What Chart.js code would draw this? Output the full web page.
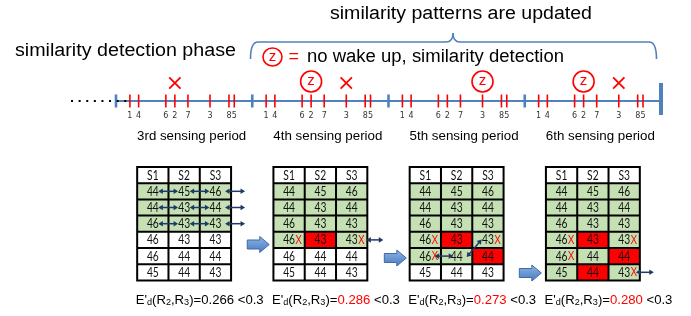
<!DOCTYPE html>
<html><head><meta charset="utf-8">
<script src="https://cdn.jsdelivr.net/npm/chart.js@4/dist/chart.umd.min.js"></script>
<style>html,body{margin:0;padding:0;background:#fff;overflow:hidden}canvas{display:block}</style>
</head><body>
<canvas id="c" width="691" height="316"></canvas>
<script>
// ================= DATA =================
const periods = [3, 4, 5, 6];                       // sensing periods on the time axis
const timelineEnd = 7;                              // end of the 6th period
const leadInStart = 2.67;                           // dotted "earlier periods" lead-in
const periodLabels = ["3rd sensing period", "4th sensing period", "5th sensing period", "6th sensing period"];
const eventLabels = ["1", "4", "6", "2", "7", "3", "8", "5"];          // sensor wake-ups
const eventPhase  = [0.102, 0.166, 0.366, 0.432, 0.528, 0.690, 0.829, 0.868]; // fraction of a period
const xEvents = [{period: 3, event: "2"}, {period: 4, event: "3"}, {period: 6, event: "3"}];
const zEvents = [{period: 4, event: "2"}, {period: 5, event: "3"}, {period: 6, event: "2"}];

const sensorNames = ["S1", "S2", "S3"];
const sensorReadings = [
  [44, 45, 46],
  [44, 43, 44],
  [46, 43, 43],
  [46, 43, 43],
  [46, 44, 44],
  [45, 44, 43]
];
const patternRows   = [3, 4, 5, 6];                 // rows in the similarity pattern (green)
const violatedCells = [[], [[3, 1]], [[3, 1], [4, 2]], [[3, 1], [4, 2], [5, 1]]];
const flaggedCells  = [[], [[3, 0], [3, 2]], [[3, 0], [3, 2], [4, 0]], [[3, 0], [3, 2], [4, 0], [5, 2]]];
const edValues   = [0.266, 0.286, 0.273, 0.280];
const edUpdated  = [false, true, true, true];
const edThreshold = 0.3;

// ================= STYLE / LAYOUT =================
const BLUE = '#4f81bd', RED = '#ff0000', NAVY = '#1f3864', GREEN = '#c5e0b3';
const LINE_Y = 101, MARK_Y = 83, Z_Y = 81.5, NUM_Y = 116, PLABEL_Y = 136;
const TAB_TOP = 167, ROW_H = 16.2, COL_W = 31.3, ED_Y = 300;
const SANS = '"Liberation Sans", Arial, sans-serif';
const CELLFONT = 'Lato, "Open Sans", sans-serif';

function evT(p, e) { return p + eventPhase[eventLabels.indexOf(e)]; }

const eventPts = [];
periods.forEach(p => eventLabels.forEach((e, i) => eventPts.push({x: p + eventPhase[i], y: LINE_Y})));

function txt(ctx, s, x, y, o) {
  ctx.save();
  ctx.font = (o.weight || '') + ' ' + o.size + 'px ' + (o.family || SANS);
  ctx.fillStyle = o.color || '#000';
  ctx.textBaseline = o.baseline || 'middle';
  const w = ctx.measureText(s).width;
  const sx = o.width ? o.width / w : (o.sx || 1);
  const a = o.align || 'center';
  const x0 = a === 'center' ? x - w * sx / 2 : a === 'right' ? x - w * sx : x;
  ctx.translate(x0, y); ctx.scale(sx, 1); ctx.textAlign = 'left';
  ctx.fillText(s, 0, 0);
  ctx.restore();
  return w * sx;
}

function dArrow(ctx, x1, y1, x2, y2) {
  const ang = Math.atan2(y2 - y1, x2 - x1), h = 4.5, hw = 2.8;
  ctx.save();
  ctx.strokeStyle = NAVY; ctx.fillStyle = NAVY; ctx.lineWidth = 1.5;
  ctx.beginPath();
  ctx.moveTo(x1 + Math.cos(ang) * h * 0.8, y1 + Math.sin(ang) * h * 0.8);
  ctx.lineTo(x2 - Math.cos(ang) * h * 0.8, y2 - Math.sin(ang) * h * 0.8);
  ctx.stroke();
  [[x2, y2, ang], [x1, y1, ang + Math.PI]].forEach(([x, y, a]) => {
    ctx.beginPath();
    ctx.moveTo(x, y);
    ctx.lineTo(x - Math.cos(a) * h - Math.sin(a) * hw, y - Math.sin(a) * h + Math.cos(a) * hw);
    ctx.lineTo(x - Math.cos(a) * h + Math.sin(a) * hw, y - Math.sin(a) * h - Math.cos(a) * hw);
    ctx.closePath(); ctx.fill();
  });
  ctx.restore();
}

function blockArrow(ctx, cx, cy) {
  const x0 = cx - 11;
  ctx.save();
  const g = ctx.createLinearGradient(0, cy - 8, 0, cy + 8);
  g.addColorStop(0, '#8db3e2'); g.addColorStop(1, '#4a7cc3');
  ctx.fillStyle = g; ctx.strokeStyle = '#3f6aa6'; ctx.lineWidth = 1;
  ctx.beginPath();
  ctx.moveTo(x0, cy - 4.5); ctx.lineTo(x0 + 12.5, cy - 4.5); ctx.lineTo(x0 + 12.5, cy - 8);
  ctx.lineTo(x0 + 22, cy); ctx.lineTo(x0 + 12.5, cy + 8); ctx.lineTo(x0 + 12.5, cy + 4.5);
  ctx.lineTo(x0, cy + 4.5); ctx.closePath();
  ctx.fill(); ctx.stroke();
  ctx.restore();
}

const diagram = {
  id: 'diagram',
  afterDraw(chart) {
    const ctx = chart.ctx, X = v => chart.scales.x.getPixelForValue(v), Y = v => chart.scales.y.getPixelForValue(v);

    // headings
    txt(ctx, 'similarity patterns are updated', 330, Y(14), {size: 18, width: 262, align: 'left', color: '#000'});
    txt(ctx, 'similarity detection phase', 15, Y(51), {size: 18, width: 221, align: 'left', color: '#000'});
    // brace
    ctx.save(); ctx.strokeStyle = BLUE; ctx.lineWidth = 1.6;
    ctx.beginPath();
    ctx.moveTo(250.5, Y(59)); ctx.quadraticCurveTo(250.5, Y(42), 258, Y(42));
    ctx.lineTo(446, Y(42)); ctx.quadraticCurveTo(453, Y(42), 453, Y(33));
    ctx.quadraticCurveTo(453, Y(42), 460, Y(42)); ctx.lineTo(649, Y(42));
    ctx.quadraticCurveTo(656.5, Y(42), 656.5, Y(59));
    ctx.stroke(); ctx.restore();
    // legend
    ctx.save(); ctx.strokeStyle = RED; ctx.lineWidth = 1.6;
    ctx.beginPath(); ctx.ellipse(272.5, Y(57), 9.5, 9, 0, 0, Math.PI * 2); ctx.stroke(); ctx.restore();
    txt(ctx, 'z', 272.5, Y(57) + 3.8, {size: 15, color: RED, baseline: 'alphabetic'});
    txt(ctx, '=', 288.5, Y(57), {size: 18, color: RED, align: 'left'});
    txt(ctx, 'no wake up, similarity detection', 307, Y(57), {size: 18, width: 257, align: 'left', color: '#000'});

    // z letters in timeline circles
    zEvents.forEach(z => txt(ctx, 'z', X(evT(z.period, z.event)), Y(Z_Y) + 3.8, {size: 15, color: RED, baseline: 'alphabetic'}));
    // event numbers
    periods.forEach(p => eventLabels.forEach((e, i) =>
      txt(ctx, e, X(p + eventPhase[i]), Y(NUM_Y), {size: 8, family: '"DejaVu Sans", sans-serif', color: '#333'})));
    // period labels
    periods.forEach((p, k) => txt(ctx, periodLabels[k], X(p + 0.555), Y(PLABEL_Y), {size: 13, width: 109, color: '#000'}));

    // tables
    periods.forEach((p, k) => {
      const L = X(p + 0.5) - COL_W * 1.5, top = Y(TAB_TOP);
      const nR = sensorReadings.length + 1;
      for (let r = 0; r < nR; r++) for (let c = 0; c < 3; c++) {
        let fill = '#fff';
        if (r > 0 && r - 1 < patternRows[k]) fill = GREEN;
        if (r > 0 && violatedCells[k].some(v => v[0] === r - 1 && v[1] === c)) fill = RED;
        ctx.fillStyle = fill;
        ctx.fillRect(L + c * COL_W, top + r * ROW_H, COL_W, ROW_H);
      }
      ctx.save(); ctx.strokeStyle = '#000'; ctx.lineWidth = 2;
      ctx.beginPath();
      for (let r = 0; r <= nR; r++) { ctx.moveTo(L - 1, top + r * ROW_H); ctx.lineTo(L + 3 * COL_W + 1, top + r * ROW_H); }
      for (let c = 0; c <= 3; c++) { ctx.moveTo(L + c * COL_W, top - 1); ctx.lineTo(L + c * COL_W, top + nR * ROW_H + 1); }
      ctx.stroke(); ctx.restore();
      for (let r = 0; r < nR; r++) for (let c = 0; c < 3; c++) {
        const cx = L + (c + 0.5) * COL_W, cy = top + (r + 0.5) * ROW_H + 0.5;
        const s = r === 0 ? sensorNames[c] : String(sensorReadings[r - 1][c]);
        const w = txt(ctx, s, cx, cy, {size: 12.5, family: CELLFONT, sx: 0.82, color: '#111'});
        if (r > 0 && flaggedCells[k].some(v => v[0] === r - 1 && v[1] === c))
          txt(ctx, 'X', cx + w / 2 + 0.3, cy, {size: 12.5, sx: 0.8, color: RED, align: 'left'});
      }
      const rowY = i => top + (i + 1.5) * ROW_H;
      const colX = c => L + (c + 0.5) * COL_W;
      if (k === 0) {
        for (let i = 0; i < patternRows[0]; i++) {
          dArrow(ctx, colX(0) + 5.5, rowY(i), colX(1) - 6, rowY(i));
          dArrow(ctx, colX(1) + 5.5, rowY(i), colX(2) - 6, rowY(i));
          dArrow(ctx, L + 3 * COL_W - 6, rowY(i), L + 3 * COL_W + 14, rowY(i));
        }
      } else if (k === 1) {
        dArrow(ctx, L + 3 * COL_W - 1, rowY(3), L + 3 * COL_W + 16, rowY(3));
      } else if (k === 2) {
        dArrow(ctx, L + 25, rowY(4), L + 43.5, rowY(4));
        dArrow(ctx, L + 57, rowY(4) + 1, L + 72, rowY(3) - 0.5);
      } else if (k === 3) {
        dArrow(ctx, L + 3 * COL_W - 4, rowY(5), L + 3 * COL_W + 14, rowY(5));
      }
      // E'd text
      const segs = [["E'", 13, 0, '#000'], ['d', 9, 3, '#000'], ['(R', 13, 0, '#000'], ['2', 9, 3, '#000'],
        [',R', 13, 0, '#000'], ['3', 9, 3, '#000'], [')=', 13, 0, '#000'],
        [edValues[k].toFixed(3), 13, 0, edUpdated[k] ? RED : '#000'], [' <' + edThreshold, 13, 0, '#000']];
      ctx.save();
      let tot = 0;
      segs.forEach(s => { ctx.font = s[1] + 'px ' + SANS; tot += ctx.measureText(s[0]).width; });
      const sx = 128 / tot;
      let x = L - 1.5;
      segs.forEach(s => {
        ctx.font = s[1] + 'px ' + SANS;
        const w = ctx.measureText(s[0]).width;
        txt(ctx, s[0], x, Y(ED_Y) + s[2], {size: s[1], sx: sx, color: s[3], align: 'left'});
        x += w * sx;
      });
      ctx.restore();
    });
    // block arrows between tables
    blockArrow(ctx, X(4.044), Y(244.5));
    blockArrow(ctx, X(5.05), Y(258));
    blockArrow(ctx, X(6.041), Y(273));
  }
};

new Chart(document.getElementById('c'), {
  type: 'scatter',
  data: {
    datasets: [
      {data: [{x: leadInStart, y: LINE_Y}, {x: periods[0] + 0.095, y: LINE_Y}], showLine: true, borderColor: '#000',
       borderWidth: 2, borderDash: [2, 5.6], pointRadius: 0, order: 0, clip: false},
      {data: xEvents.map(e => ({x: evT(e.period, e.event), y: MARK_Y})), pointStyle: 'crossRot', pointRadius: 8,
       pointBorderColor: RED, pointBorderWidth: 1.8, order: 1, clip: false},
      {data: zEvents.map(e => ({x: evT(e.period, e.event), y: Z_Y})), pointStyle: 'circle', pointRadius: 10.5,
       pointBorderColor: RED, pointBackgroundColor: 'rgba(0,0,0,0)', pointBorderWidth: 1.6, order: 1, clip: false},
      {data: eventPts, pointStyle: 'line', pointRotation: 90, pointRadius: 6.5, pointBorderColor: RED,
       pointBorderWidth: 1.6, order: 2, clip: false},
      {data: periods.map(p => ({x: p, y: LINE_Y})), pointStyle: 'line', pointRotation: 90, pointRadius: 6.5,
       pointBorderColor: BLUE, pointBorderWidth: 2.6, order: 2, clip: false},
      {data: [{x: timelineEnd, y: 99}], pointStyle: 'line', pointRotation: 90, pointRadius: 16,
       pointBorderColor: BLUE, pointBorderWidth: 4, order: 2, clip: false},
      {data: [{x: periods[0], y: LINE_Y}, {x: timelineEnd, y: LINE_Y}], showLine: true, borderColor: BLUE,
       borderWidth: 1.8, pointRadius: 0, order: 5, clip: false}
    ]
  },
  options: {
    responsive: false, animation: false, devicePixelRatio: 1, events: [],
    layout: {padding: 0, autoPadding: false},
    plugins: {legend: {display: false}, tooltip: {enabled: false}},
    scales: {
      x: {type: 'linear', min: 2.14862, max: 7.22018, display: false},
      y: {type: 'linear', min: 0, max: 316, reverse: true, display: false}
    }
  },
  plugins: [diagram]
});
</script>
</body></html>
